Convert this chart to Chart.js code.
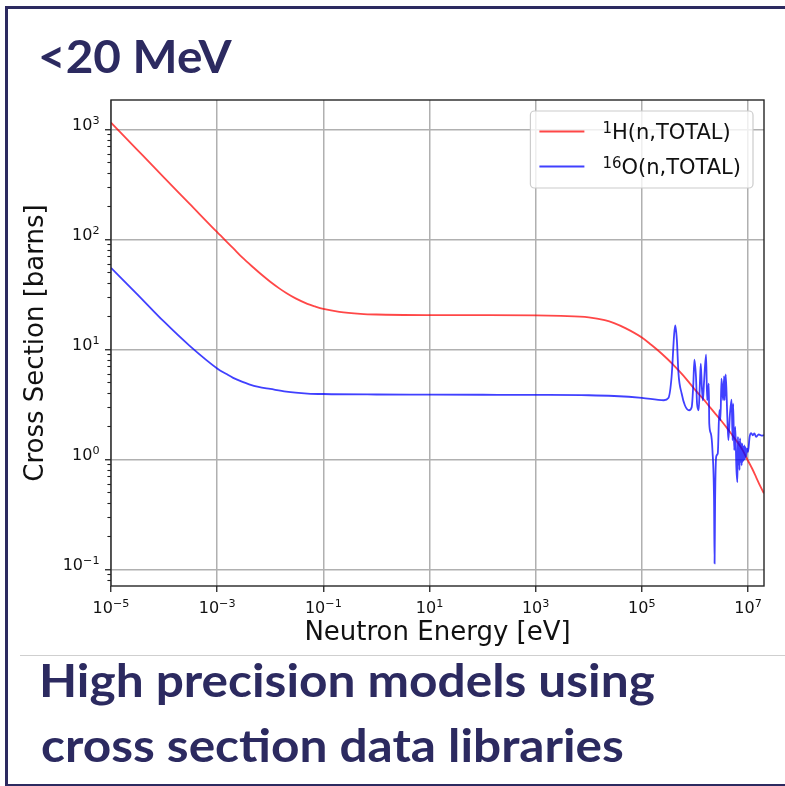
<!DOCTYPE html>
<html>
<head>
<meta charset="utf-8">
<script src="https://cdn.jsdelivr.net/npm/chart.js@4.4.1/dist/chart.umd.min.js"></script>
<style>
  html, body { margin: 0; padding: 0; background: #fff; width: 785px; height: 786px; overflow: hidden; }
  #c { position: absolute; left: 0; top: 0; }
  #frame { position: absolute; left: 5px; top: 6px; width: 900px; height: 775px;
           border-left: 3px solid #2c2a60; border-top: 3px solid #2c2a60; border-bottom: 3px solid #2c2a60; }
  #rule { position: absolute; left: 20px; top: 655px; width: 765px; height: 1px; background: #cfcfcf; }
  .heading { position: absolute; white-space: nowrap; color: #2c2a60; transform-origin: 0 0; margin: 0; }
</style>
</head>
<body>
<canvas id="c" width="785" height="786"></canvas>
<div id="frame"></div>
<div id="rule"></div>
<div class="heading" id="title"></div>
<div class="heading" id="line1"></div>
<div class="heading" id="line2"></div>
<script>
// ---- headings ----
const titleText = '<20 MeV';
const captionLines = ['High precision models using', 'cross section data libraries'];

// ---- series: total cross sections [barns] vs neutron energy [eV] ----
const seriesLabels = ['\u00B9H(n,TOTAL)', '\u00B9\u2076O(n,TOTAL)'];
const legendSup = ['1', '16'];
const legendBase = ['H(n,TOTAL)', 'O(n,TOTAL)'];
const seriesColors = ['rgba(255,0,0,0.72)', 'rgba(0,0,255,0.75)'];

const hEnergy = [1e-5, 3e-5, 1e-4, 3e-4, 1e-3, 2e-3, 3e-3, 5e-3, 7e-3, 1e-2, 1.5e-2, 2e-2, 3e-2,
  5e-2, 7e-2, 1e-1, 2e-1, 5e-1, 1, 10, 100, 1e3, 3e3, 1e4, 2e4, 3e4, 5e4, 1e5, 1.5e5, 2e5,
  3e5, 4.3e5, 6e5, 8e5, 1e6, 1.5e6, 2e6, 3e6, 4e6, 5e6, 6e6, 7e6, 8e6, 1e7, 1.2e7, 1.4e7,
  1.7e7, 2e7];
const hTotal = [1150, 664, 364, 211, 116, 83, 68, 54.5, 47.3, 41.1, 35.6, 32.5, 29.0,
  25.9, 24.5, 23.3, 21.9, 21.0, 20.7, 20.45, 20.42, 20.35, 20.1, 19.5, 18.4, 17.3, 15.5, 12.8, 11.0, 9.8,
  8.2, 6.9, 5.8, 4.9, 4.3, 3.45, 2.9, 2.3, 1.93, 1.67, 1.48, 1.33, 1.2, 0.97, 0.82, 0.70,
  0.57, 0.49];

const oEnergy = [1e-5, 3e-5, 1e-4, 3e-4, 1e-3, 1.5e-3, 2e-3, 3e-3, 4e-3, 6e-3, 1e-2, 2e-2, 3e-2, 5e-2, 1e-1,
  1, 10, 100, 1e3, 1e4, 3e4, 1e5, 2.6e5, 3.16e5, 3.63e5, 4.07e5, 4.27e5, 4.57e5, 4.9e5,
  5.62e5, 6.46e5, 7.76e5, 8.71e5, 9.33e5, 9.77e5, 1.047e6, 1.096e6, 1.175e6, 1.23e6,
  1.288e6, 1.349e6, 1.413e6, 1.479e6, 1.622e6, 1.698e6, 1.82e6, 1.862e6, 2.0e6, 2.138e6,
  2.291e6, 2.344e6, 2.399e6, 2.512e6, 2.692e6, 2.884e6, 3.02e6, 3.162e6, 3.388e6, 3.548e6,
  3.63e6, 3.802e6, 4.074e6, 4.266e6, 4.571e6, 4.898e6, 5.129e6, 5.248e6, 5.495e6, 5.754e6,
  6.026e6, 6.31e6, 6.457e6, 6.607e6, 6.761e6, 6.918e6, 7.079e6, 7.244e6, 7.413e6, 7.586e6,
  7.762e6, 7.943e6, 8.128e6, 8.318e6, 8.511e6, 8.71e6, 8.913e6, 9.12e6, 9.55e6, 1.0e7,
  1.072e7, 1.148e7, 1.23e7, 1.318e7, 1.413e7, 1.585e7, 1.8e7, 2.0e7];
const oTotal = [55, 32.3, 17.8, 10.8, 6.7, 5.95, 5.5, 5.05, 4.8, 4.55, 4.36, 4.12, 4.03, 3.96, 3.92,
  3.88, 3.87, 3.86, 3.85, 3.82, 3.76, 3.62, 3.44, 3.6, 5.6, 13.9, 16.5, 12.1, 6.0,
  3.96, 3.1, 2.79, 2.99, 4.88, 8.06, 5.6, 3.2, 2.79, 4.4,
  7.4, 4.54, 3.44, 4.88, 8.93, 3.44, 4.88, 2.11, 1.71, 1.21,
  0.42, 0.113, 0.42, 1.05, 1.13, 2.79, 2.26, 5.4, 3.44, 5.7,
  3.44, 5.9, 2.42, 1.49, 2.6, 3.49, 1.49, 3.2, 1.21, 1.97,
  0.85, 0.62, 1.6, 0.9, 1.45, 0.8, 1.55, 0.95, 1.4, 0.88,
  1.39, 0.95, 1.3, 0.98, 1.34, 1.0, 1.29, 1.05, 1.25, 1.17,
  1.6, 1.73, 1.65, 1.72, 1.6, 1.68, 1.64, 1.66];

// ---- axes ----
const xTitle = 'Neutron Energy [eV]';
const yTitle = 'Cross Section [barns]';
const tickBase = '10';
const xTickValues = [1e-5, 1e-3, 1e-1, 1e1, 1e3, 1e5, 1e7];
const xTickExponents = ['\u22125', '\u22123', '\u22121', '1', '3', '5', '7'];
const yTickValues = [1e-1, 1e0, 1e1, 1e2, 1e3];
const yTickExponents = ['\u22121', '0', '1', '2', '3'];
const xRange = [1e-5, 2e7];
const yRange = [0.0705, 1845];

// ---- headings layout: fit each line's ink box to its slot ----
const mctx = document.createElement('canvas').getContext('2d');
function placeText(el, text, font, inkLeft, inkRight, baseline) {
  mctx.font = font;
  const m = mctx.measureText(text);
  const inkW = m.actualBoundingBoxLeft + m.actualBoundingBoxRight;
  const s = (inkRight - inkLeft) / inkW;
  el.textContent = text;
  el.style.font = font;
  el.style.lineHeight = (m.fontBoundingBoxAscent + m.fontBoundingBoxDescent) + 'px';
  el.style.top = (baseline - m.fontBoundingBoxAscent) + 'px';
  el.style.left = (inkLeft + m.actualBoundingBoxLeft * s) + 'px';
  el.style.transform = 'scaleX(' + s + ')';
}
placeText(document.getElementById('title'), titleText, '700 45px Lato', 40.7, 232, 72.7);
placeText(document.getElementById('line1'), captionLines[0], '700 46px Lato', 42.7, 655, 697.3);
placeText(document.getElementById('line2'), captionLines[1], '700 46px Lato', 42.5, 623, 761.7);

// ---- chart ----
Chart.defaults.font.family = '"DejaVu Sans", sans-serif';
Chart.defaults.color = '#111';

const TICK_FONT = '16px "DejaVu Sans"';
const EXP_FONT = '11.2px "DejaVu Sans"';

// "10" with a raised exponent; align: 'center' or 'right' about x
function drawPower(ctx, exp, x, baseline, align) {
  ctx.font = TICK_FONT;
  const bw = ctx.measureText(tickBase).width;
  ctx.font = EXP_FONT;
  const ew = ctx.measureText(exp).width;
  const w = bw + ew;
  const x0 = align === 'center' ? x - w / 2 : x - w;
  ctx.font = TICK_FONT;
  ctx.fillText(tickBase, x0, baseline);
  ctx.font = EXP_FONT;
  ctx.fillText(exp, x0 + bw, baseline - 6.2);
}

const axesDecor = {
  id: 'axesDecor',
  afterDraw(chart) {
    const { ctx, chartArea: a, scales: { x, y } } = chart;
    ctx.save();
    // minor ticks on the log y axis
    ctx.strokeStyle = '#222';
    ctx.lineWidth = 1.1;
    for (let d = -2; d <= 3; d++) {
      for (let m = 2; m <= 9; m++) {
        const v = m * Math.pow(10, d);
        if (v < y.min || v > y.max) continue;
        const p = Math.round(y.getPixelForValue(v)) + 0.5;
        ctx.beginPath();
        ctx.moveTo(a.left - 3.6, p);
        ctx.lineTo(a.left, p);
        ctx.stroke();
      }
    }
    // frame around the plotting area
    ctx.strokeStyle = '#262626';
    ctx.lineWidth = 1.4;
    ctx.strokeRect(a.left, a.top, a.right - a.left, a.bottom - a.top);

    // tick labels as powers of ten
    ctx.fillStyle = '#111';
    ctx.textBaseline = 'alphabetic';
    ctx.textAlign = 'left';
    xTickValues.forEach((v, i) => {
      drawPower(ctx, xTickExponents[i], x.getPixelForValue(v), a.bottom + 27.2, 'center');
    });
    yTickValues.forEach((v, i) => {
      drawPower(ctx, yTickExponents[i], a.left - 11.5, y.getPixelForValue(v) + 1.2, 'right');
    });

    // legend, upper right
    const fs = 21;
    const baseFont = fs + 'px "DejaVu Sans"';
    const supFont = Math.round(fs * 0.7) + 'px "DejaVu Sans"';
    const rows = legendBase.map((b, i) => {
      ctx.font = supFont; const sw = ctx.measureText(legendSup[i]).width;
      ctx.font = baseFont; const bw = ctx.measureText(b).width;
      return { sw, bw };
    });
    const textW = Math.max(...rows.map(r => r.sw + r.bw));
    const padL = 9, padR = 12, handleLen = 45, gap = 18;
    const boxW = padL + handleLen + gap + textW + padR;
    const boxR = a.right - 11, boxL = boxR - boxW, boxT = a.top + 11, boxH = 77, rowH = 35;
    ctx.beginPath();
    if (ctx.roundRect) ctx.roundRect(boxL, boxT, boxW, boxH, 4); else ctx.rect(boxL, boxT, boxW, boxH);
    ctx.fillStyle = 'rgba(255,255,255,0.8)';
    ctx.fill();
    ctx.strokeStyle = '#cccccc';
    ctx.lineWidth = 1.2;
    ctx.stroke();
    rows.forEach((r, i) => {
      const ry = boxT + 20.5 + i * rowH;
      ctx.beginPath();
      ctx.strokeStyle = seriesColors[i];
      ctx.lineWidth = 1.8;
      ctx.moveTo(boxL + padL, ry);
      ctx.lineTo(boxL + padL + handleLen, ry);
      ctx.stroke();
      const tx = boxL + padL + handleLen + gap;
      ctx.fillStyle = '#111';
      ctx.font = supFont;
      ctx.fillText(legendSup[i], tx, ry + 7.6 - 6);
      ctx.font = baseFont;
      ctx.fillText(legendBase[i], tx + r.sw, ry + 7.6);
    });
    ctx.restore();
  }
};

function series(energy, values) {
  return energy.map((e, i) => ({ x: e, y: values[i] }));
}

new Chart(document.getElementById('c'), {
  type: 'scatter',
  data: {
    datasets: [
      { label: seriesLabels[0], data: series(hEnergy, hTotal), showLine: true,
        borderColor: seriesColors[0], borderWidth: 1.8, pointRadius: 0,
        cubicInterpolationMode: 'monotone', order: 2 },
      { label: seriesLabels[1], data: series(oEnergy, oTotal), showLine: true,
        borderColor: seriesColors[1], borderWidth: 1.8, pointRadius: 0,
        cubicInterpolationMode: 'monotone', order: 1 }
    ]
  },
  options: {
    responsive: false,
    animation: false,
    devicePixelRatio: 1,
    layout: { padding: { left: 0, top: 100, right: 21, bottom: 126 } },
    plugins: { legend: { display: false }, tooltip: { enabled: false } },
    scales: {
      x: {
        type: 'logarithmic', min: xRange[0], max: xRange[1],
        afterBuildTicks: s => { s.ticks = xTickValues.map(v => ({ value: v })); },
        afterFit: s => { s.height = 74; },
        ticks: { display: false },
        grid: { color: '#b0b0b0', lineWidth: 1.5, drawTicks: true, tickLength: 6,
                tickColor: '#222', tickWidth: 1.3 },
        border: { display: false },
        title: { display: true, text: xTitle, color: '#111',
                 font: { size: 26, lineHeight: 1 }, padding: { top: 0, bottom: 14 } }
      },
      y: {
        type: 'logarithmic', min: yRange[0], max: yRange[1],
        afterBuildTicks: s => { s.ticks = yTickValues.map(v => ({ value: v })); },
        afterFit: s => { s.width = 111; },
        ticks: { display: false },
        grid: { color: '#b0b0b0', lineWidth: 1.5, drawTicks: true, tickLength: 6,
                tickColor: '#222', tickWidth: 1.3 },
        border: { display: false },
        title: { display: true, text: yTitle, color: '#111',
                 font: { size: 26, lineHeight: 1 }, padding: { top: 23, bottom: 0 } }
      }
    }
  },
  plugins: [axesDecor]
});
</script>
</body>
</html>
